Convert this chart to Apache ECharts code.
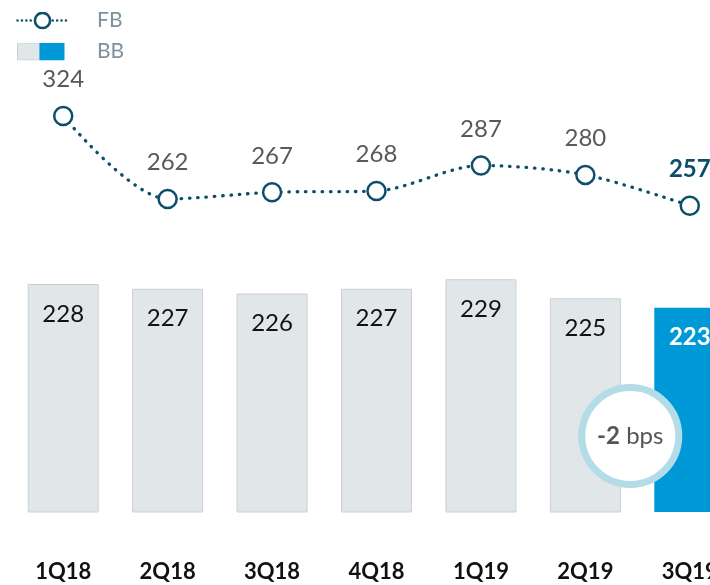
<!DOCTYPE html>
<html><head><meta charset="utf-8">
<script src="https://cdn.jsdelivr.net/npm/echarts@6/dist/echarts.min.js"></script>
<style>html,body{margin:0;padding:0;background:#fff}#c{width:710px;height:585px}</style>
</head><body><div id="c"></div>
<script>
const categories = ['1Q18','2Q18','3Q18','4Q18','1Q19','2Q19','3Q19'];
const fbValues = [324, 262, 267, 268, 287, 280, 257];
const bbValues = [228, 227, 226, 227, 229, 225, 223];
const badgeValue = '-2';
const badgeUnit = ' bps';

const TEAL = '#0d4f6b', BLUE = '#0099d8', GREY = '#e1e6e9', GREY_B = '#c9d1d6';
const last = categories.length - 1;

const fbSvg = '<svg xmlns="http://www.w3.org/2000/svg" width="52" height="18">' +
  '<line x1="1.5" y1="9" x2="51" y2="9" stroke="' + TEAL + '" stroke-width="2.4" stroke-linecap="round" stroke-dasharray="0.1 4.3"/>' +
  '<circle cx="26.5" cy="9" r="7.6" fill="#fff" stroke="' + TEAL + '" stroke-width="2.6"/></svg>';
const bbSvg = '<svg xmlns="http://www.w3.org/2000/svg" width="52" height="18">' +
  '<rect x="1.5" y="0.5" width="22" height="17" fill="' + GREY + '" stroke="' + GREY_B + '"/>' +
  '<rect x="23.5" y="0" width="25" height="18" fill="' + BLUE + '"/></svg>';
const svgIcon = s => 'image://data:image/svg+xml;utf8,' + encodeURIComponent(s);

const chart = echarts.init(document.getElementById('c'));
chart.setOption({
  animation: false,
  textStyle: { fontFamily: 'Lato' },
  grid: { left: 11, right: -32, top: 37, bottom: 73, containLabel: false, outerBoundsMode: 'none' },
  legend: {
    orient: 'vertical', left: 11, top: -2, itemWidth: 52, itemHeight: 18, itemGap: -4,
    textStyle: { fontSize: 21, lineHeight: 22, color: '#7d929c', padding: [13, 0, 0, 24] },
    data: [{ name: 'FB', icon: svgIcon(fbSvg) }, { name: 'BB', icon: svgIcon(bbSvg) }]
  },
  xAxis: {
    type: 'category', data: categories,
    axisLine: { show: false }, axisTick: { show: false },
    axisLabel: { margin: 49, fontSize: 22, fontWeight: 'bold', color: '#111' }
  },
  yAxis: [
    { type: 'value', min: 180, max: 280, show: false },
    { type: 'value', min: 28.2, max: 383, show: false }
  ],
  series: [
    {
      name: 'BB', type: 'bar', yAxisIndex: 0, barWidth: 71,
      data: bbValues.map((v, i) => i === last ? {
        value: v, itemStyle: { color: BLUE, borderWidth: 0 },
        label: { color: '#fff', fontWeight: 'bold' }
      } : v),
      itemStyle: { color: GREY, borderColor: GREY_B, borderWidth: 1 },
      label: { show: true, position: 'insideTop', distance: 18, fontSize: 24, color: '#111' }
    },
    {
      name: 'FB', type: 'line', yAxisIndex: 1, smooth: 0.3,
      symbol: 'circle', symbolSize: 18,
      data: fbValues.map((v, i) => i === last ? {
        value: v, label: { color: TEAL, fontWeight: 'bold' }
      } : v),
      itemStyle: { color: '#fff', borderColor: TEAL, borderWidth: 2.5 },
      lineStyle: { color: TEAL, width: 3.3, type: [0.5, 7.8], cap: 'round' },
      label: { show: true, position: 'top', distance: 14, fontSize: 24, color: '#595959' },
      z: 5
    }
  ]
});

const p5 = chart.convertToPixel({ xAxisIndex: 0, yAxisIndex: 0 }, [categories[last - 1], 196]);
const p6 = chart.convertToPixel({ xAxisIndex: 0, yAxisIndex: 0 }, [categories[last], 196]);
const cx = p5[0] + 0.43 * (p6[0] - p5[0]);
chart.setOption({
  graphic: [{
    type: 'group', x: cx, y: p5[1], z: 100, zlevel: 1,
    children: [
      { type: 'circle', z: 100, zlevel: 1, shape: { cx: 0, cy: 0, r: 48.5 }, style: { fill: '#fff', stroke: '#b3dce7', lineWidth: 7 } },
      { type: 'text', z: 101, zlevel: 1, x: 0, y: 0, style: {
          text: '{a|' + badgeValue + '}{b|' + badgeUnit + '}', align: 'center', verticalAlign: 'middle',
          rich: {
            a: { fontFamily: 'Lato', fontSize: 24, fontWeight: 'bold', fill: '#555' },
            b: { fontFamily: 'Lato', fontSize: 24, fill: '#555' }
          }
      } }
    ]
  }]
});
</script></body></html>
